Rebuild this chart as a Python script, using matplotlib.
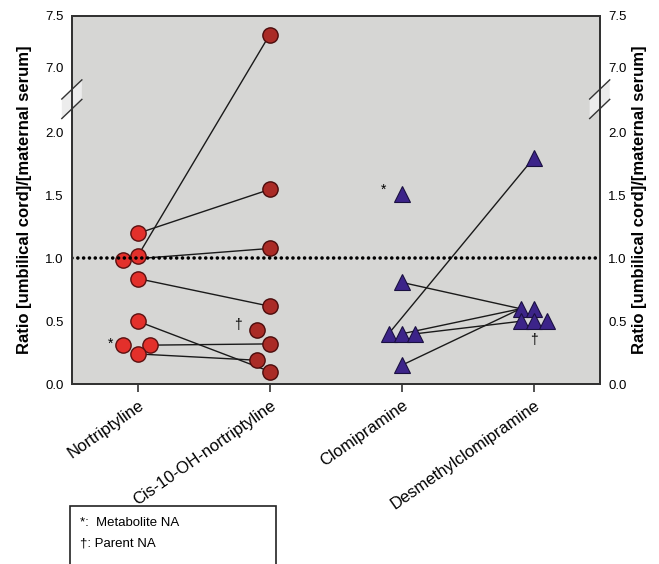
import numpy as np
import matplotlib
matplotlib.use("Agg")
import matplotlib.pyplot as plt
from matplotlib.patches import Rectangle, Polygon

plt.rcParams['font.family'] = ['Liberation Sans', 'DejaVu Sans']

# data (ratio cord / maternal serum)
categories = ['Nortriptyline', 'Cis-10-OH-nortriptyline', 'Clomipramine', 'Desmethylclomipramine']

nort_vals = [1.20, 1.02, 0.99, 0.84, 0.50, 0.31, 0.31, 0.24]
nort_jit = [0, 0, -0.11, 0, 0, -0.11, 0.09, 0]
cis_vals = [7.32, 1.55, 1.08, 0.62, 0.43, 0.32, 0.19, 0.10]
cis_jit = [0, 0, 0, 0, -0.10, 0, -0.10, 0]
clo_vals = [1.51, 0.81, 0.40, 0.40, 0.40, 0.15]
clo_jit = [0, 0, -0.10, 0, 0.10, 0]
des_vals = [1.80, 0.60, 0.60, 0.50, 0.50, 0.50]
des_jit = [0, -0.10, 0, -0.10, 0, 0.10]

# paired samples (index in parent, index in metabolite)
nort_cis_pairs = [(1, 0), (0, 1), (2, 2), (3, 3), (4, 7), (6, 5), (7, 6)]
clo_des_pairs = [(2, 0), (1, 1), (3, 1), (5, 1), (4, 3)]

yticks = [0.0, 0.5, 1.0, 1.5, 2.0, 7.0, 7.5]

# broken y axis: 0-2 linear, 2-7 squeezed, 7-7.5 slightly compressed
K_GAP = 0.1036
K_TOP = 0.829
TOP0 = 2 + 5 * K_GAP


def fwd(y):
    y = np.asarray(y, dtype=float)
    return np.where(y <= 2, y, np.where(y <= 7, 2 + (y - 2) * K_GAP, TOP0 + (y - 7) * K_TOP))


def inv(t):
    t = np.asarray(t, dtype=float)
    return np.where(t <= 2, t, np.where(t <= TOP0, 2 + (t - 2) / K_GAP, 7 + (t - TOP0) / K_TOP))


fig = plt.figure(figsize=(6.59, 5.64), dpi=100)
ax = fig.add_axes([0.109, 0.319, 0.801, 0.653])
ax.set_facecolor('#d6d6d4')
ax.set_yscale('function', functions=(fwd, inv))
ax.set_ylim(0, 7.5)
ax.set_xlim(0.5, 4.5)

x_n = [1 + j for j in nort_jit]
x_c = [2 + j for j in cis_jit]
x_cl = [3 + j for j in clo_jit]
x_d = [4 + j for j in des_jit]

for a, b in nort_cis_pairs:
    ax.plot([x_n[a], x_c[b]], [nort_vals[a], cis_vals[b]], color='#1a1a1a', lw=1.0, zorder=2)
for a, b in clo_des_pairs:
    ax.plot([x_cl[a], x_d[b]], [clo_vals[a], des_vals[b]], color='#1a1a1a', lw=1.0, zorder=2)

ax.plot(x_n, nort_vals, 'o', ms=11, mfc='#e3302b', mec='#5a1010', mew=1.0, ls='none', zorder=3)
ax.plot(x_c, cis_vals, 'o', ms=11, mfc='#aa2b26', mec='#4a0c0c', mew=1.0, ls='none', zorder=3)
ax.plot(x_cl, clo_vals, '^', ms=11.5, mfc='#3c2489', mec='#1a1040', mew=0.8, ls='none', zorder=3)
ax.plot(x_d, des_vals, '^', ms=11.5, mfc='#3c2489', mec='#1a1040', mew=0.8, ls='none', zorder=3)

ax.axhline(1.0, color='black', lw=2.6, ls=(0, (0.01, 1.6)), dash_capstyle='round', zorder=4)

# NA markers
ax.text(0.79, 0.32, '*', fontsize=10, ha='center', va='center')
ax.text(2.865, 1.55, '*', fontsize=10, ha='center', va='center')
ax.text(1.76, 0.47, '\u2020', fontsize=10, ha='center', va='center')
ax.text(4.0, 0.35, '\u2020', fontsize=10, ha='center', va='center')

ax.set_xticks(range(1, 5))
ax.set_xticklabels(categories, rotation=35, ha='right', rotation_mode='anchor', fontsize=12)
ax.tick_params(axis='x', direction='out', length=6, width=1.2, color='#333333', pad=4)
ax.set_yticks(yticks)
ax.set_yticklabels(['%.1f' % v for v in yticks], fontsize=9.5)
ax.tick_params(axis='y', length=0, pad=6)
ax.minorticks_off()

ax2 = ax.twinx()
ax2.set_yscale('function', functions=(fwd, inv))
ax2.set_ylim(0, 7.5)
ax2.set_yticks(yticks)
ax2.set_yticklabels(['%.1f' % v for v in yticks], fontsize=9.5)
ax2.tick_params(axis='y', length=0, pad=6)
ax2.minorticks_off()

for a in (ax, ax2):
    for s in a.spines.values():
        s.set_color('#333333')
        s.set_linewidth(1.4)

ylab = 'Ratio [umbilical cord]/[maternal serum]'
ax.set_ylabel(ylab, fontsize=12, fontweight='bold')
ax.yaxis.set_label_coords(-0.075, 0.5)
ax2.set_ylabel(ylab, fontsize=12, fontweight='bold')
ax2.yaxis.set_label_coords(1.062, 0.5)

# axis break marks on both spines
dx, dy = 0.019, 0.026
for xs in (0, 1):
    lo, hi = 0.747, 0.800
    ax.add_patch(Polygon([(xs - dx, lo - dy), (xs + dx, lo + dy), (xs + dx, hi + dy), (xs - dx, hi - dy)],
                         closed=True, transform=ax.transAxes, facecolor='#ececec', edgecolor='none',
                         clip_on=False, zorder=6))
    for yc in (lo, hi):
        ax.plot([xs - dx, xs + dx], [yc - dy, yc + dy], transform=ax.transAxes, color='#333333',
                lw=1.0, clip_on=False, zorder=7)

# legend box for symbols
fig.patches.append(Rectangle((0.106, -0.05), 0.313, 0.153, transform=fig.transFigure,
                             facecolor='white', edgecolor='#222222', lw=1.2))
fig.text(0.122, 0.073, '*:  Metabolite NA', fontsize=9.5, va='center')
fig.text(0.122, 0.037, '\u2020: Parent NA', fontsize=9.5, va='center')

fig.savefig('out.png', dpi=100)
